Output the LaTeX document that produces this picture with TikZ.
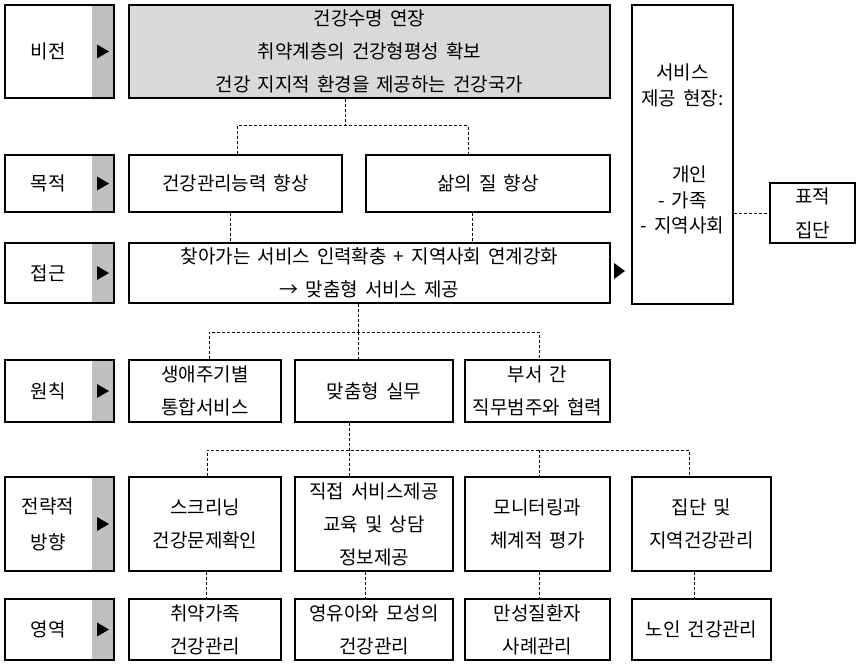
\documentclass[tikz,border=0pt]{standalone}
\usepackage{fontspec}
\setmainfont{Noto Sans CJK KR}[WordSpace=1.65]
\usetikzlibrary{calc}
\definecolor{visgray}{RGB}{217,217,217}
\definecolor{labgray}{RGB}{192,192,192}
\newcommand\labtxt[1]{\makebox[109pt][l]{\makebox[86pt]{\begin{tabular}{@{}c@{}}#1\end{tabular}}}}
\tikzset{
  box/.style={draw, line width=1.3pt, inner sep=0pt, align=center, font=\fontsize{19}{33}\selectfont},
  labbox/.style={draw, line width=1.3pt, inner sep=0pt, minimum width=109pt,
    font=\fontsize{19}{36}\selectfont,
    path picture={
      \fill[labgray] ([xshift=-22pt]path picture bounding box.north east) rectangle (path picture bounding box.south east);
      \fill ([xshift=-17pt,yshift=7pt]path picture bounding box.east) -- ([xshift=-17pt,yshift=-7pt]path picture bounding box.east) -- ([xshift=-5pt]path picture bounding box.east) -- cycle;
    }},
  conn/.style={line width=1pt, dash pattern=on 3pt off 2pt},
}
\begin{document}
\begin{tikzpicture}[x=1pt,y=-1pt]
\useasboundingbox[fill=white] (0,0) rectangle (859,666);
% row labels
\node[labbox, minimum height=93pt] (Lvis) at (59.5,51.5) {\labtxt{비전}};
\node[labbox, minimum height=57pt] (Lpur) at (59.5,183.5) {\labtxt{목적}};
\node[labbox, minimum height=60pt] (Lapp) at (59.5,273) {\labtxt{접근}};
\node[labbox, minimum height=62pt] (Lpri) at (59.5,391) {\labtxt{원칙}};
\node[labbox, minimum height=94pt] (Lstr) at (59.5,524) {\labtxt{전략적\\방향}};
\node[labbox, minimum height=61pt] (Ldom) at (59.5,629.5) {\labtxt{영역}};
% main boxes
\node[box, fill=visgray, minimum width=481pt, minimum height=93pt] (vis) at (369.5,51.5) {건강수명 연장\\취약계층의 건강형평성 확보\\건강 지지적 환경을 제공하는 건강국가};
\node[box, minimum width=213pt, minimum height=57pt] (p1) at (235.5,183.5) {건강관리능력 향상};
\node[box, minimum width=244pt, minimum height=57pt] (p2) at (488,183.5) {삶의 질 향상};
\node[box, minimum width=481pt, minimum height=60pt] (ap) at (369.5,273) {찾아가는 서비스 인력확충 + 지역사회 연계강화\\→ 맞춤형 서비스 제공};
\node[box, minimum width=152pt, minimum height=62pt] (r1) at (205,391) {생애주기별\\통합서비스};
\node[box, minimum width=158pt, minimum height=62pt] (r2) at (374,391) {맞춤형 실무};
\node[box, minimum width=145pt, minimum height=62pt] (r3) at (537.5,391) {부서 간\\직무범주와 협력};
\node[box, minimum width=152pt, minimum height=94pt] (s1) at (205,524) {스크리닝\\건강문제확인};
\node[box, minimum width=158pt, minimum height=94pt] (s2) at (374,524) {직접 서비스제공\\교육 및 상담\\정보제공};
\node[box, minimum width=145pt, minimum height=94pt] (s3) at (537.5,524) {모니터링과\\체계적 평가};
\node[box, minimum width=139pt, minimum height=94pt] (s4) at (701.5,524) {집단 및\\지역건강관리};
\node[box, minimum width=152pt, minimum height=61pt] (d1) at (205,629.5) {취약가족\\건강관리};
\node[box, minimum width=158pt, minimum height=61pt] (d2) at (374,629.5) {영유아와 모성의\\건강관리};
\node[box, minimum width=145pt, minimum height=61pt] (d3) at (537.5,629.5) {만성질환자\\사례관리};
\node[box, minimum width=139pt, minimum height=61pt] (d4) at (701.5,629.5) {노인 건강관리};
\node[box, minimum width=101pt, minimum height=299pt, font=\fontsize{19}{25.5}\selectfont] (sv) at (682.5,154.5) {서비스\\제공 현장:\\[51pt]\hspace*{14pt}개인\\- 가족\\- 지역사회\rule[-12pt]{0pt}{0pt}};
\node[box, minimum width=85pt, minimum height=60pt, font=\fontsize{19}{34}\selectfont] (tg) at (812.5,213) {표적\\집단};
% triangle between approach and service site
\coordinate (tri) at (619,271);
\fill ([xshift=-5pt,yshift=8pt]tri) -- ([xshift=-5pt,yshift=-8pt]tri) -- ([xshift=6pt]tri) -- cycle;
% connectors
\coordinate (j1) at (345,126); \coordinate (j1l) at (237,126); \coordinate (j1r) at (468,126);
\draw[conn] (j1 |- vis.south) -- (j1);
\draw[conn] (j1l |- p1.north) -- (j1l) -- (j1r) -- (j1r |- p2.north);
\coordinate (k1) at (230,0); \coordinate (k2) at (472,0);
\draw[conn] (k1 |- p1.south) -- (k1 |- ap.north);
\draw[conn] (k2 |- p2.south) -- (k2 |- ap.north);
\coordinate (j2) at (358,332); \coordinate (j2l) at (209,332); \coordinate (j2r) at (539,332);
\draw[conn] (j2 |- ap.south) -- (j2);
\draw[conn] (j2l |- r1.north) -- (j2l) -- (j2r) -- (j2r |- r3.north);
\draw[conn] (j2) -- (j2 |- r2.north);
\coordinate (j3) at (349,450); \coordinate (j3l) at (207,450); \coordinate (j3r) at (689,450); \coordinate (j3m) at (539,450);
\draw[conn] (j3 |- r2.south) -- (j3 |- s2.north);
\draw[conn] (j3l |- s1.north) -- (j3l) -- (j3r) -- (j3r |- s4.north);
\draw[conn] (j3m) -- (j3m |- s3.north);
\coordinate (m1) at (206,0); \coordinate (m2) at (365,0); \coordinate (m3) at (539,0); \coordinate (m4) at (694,0);
\draw[conn] (m1 |- s1.south) -- (m1 |- d1.north);
\draw[conn] (m2 |- s2.south) -- (m2 |- d2.north);
\draw[conn] (m3 |- s3.south) -- (m3 |- d3.north);
\draw[conn] (m4 |- s4.south) -- (m4 |- d4.north);
\draw[conn] (sv.east |- tg.west) -- (tg.west);
\end{tikzpicture}
\end{document}
